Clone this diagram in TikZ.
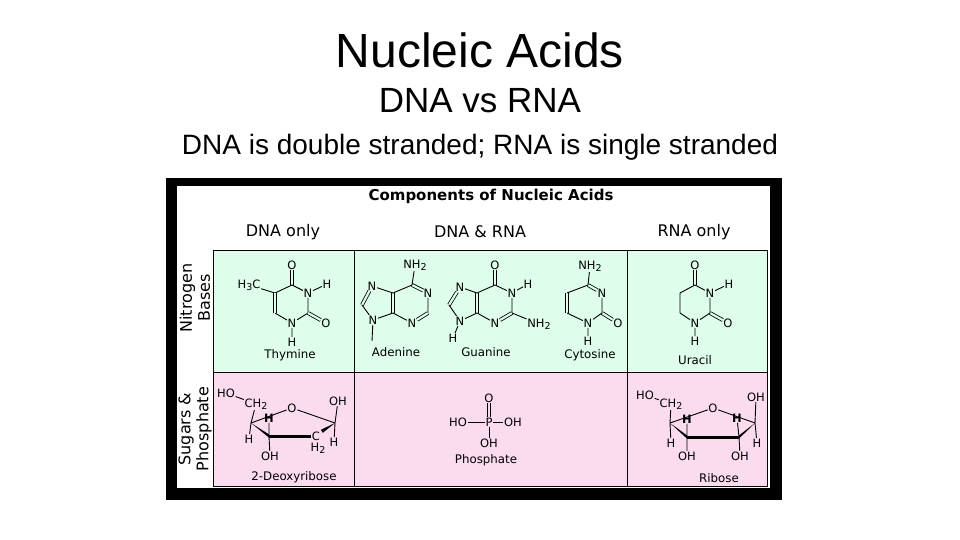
\documentclass[tikz,border=0pt]{standalone}
\usepackage{fontspec}
\setmainfont{Liberation Sans}
\newfontfamily\dv{DejaVu Sans}
\usetikzlibrary{calc}
\newcommand{\chsub}[1]{\raisebox{-0.35ex}{\fontsize{9.5}{9.5}\selectfont #1}}
\definecolor{gbg}{RGB}{222,253,235}
\definecolor{pbg}{RGB}{250,220,238}
\begin{document}
\begin{tikzpicture}[x=1pt,y=-1pt,
 a/.style={font=\dv\fontsize{11.5}{11.5}\selectfont, inner sep=0.6pt},
 lbl/.style={font=\dv\fontsize{11.8}{12}\selectfont, inner sep=0pt},
 hd/.style={font=\dv\fontsize{16}{16}\selectfont, inner sep=0pt},
 bd/.style={line width=0.9pt},
 dbl/.style={double=gbg, double distance=2.2pt, line width=0.8pt},
 dblp/.style={double=pbg, double distance=2.2pt, line width=0.8pt},
 thk/.style={line width=3pt},
 grid/.style={line width=0.8pt}]
\path[use as bounding box] (0,0) rectangle (960,540);
\node (t1) at (480,50) {\fontsize{48}{48}\selectfont Nucleic Acids};
\node (t2) at (480,101) {\fontsize{35}{35}\selectfont DNA vs RNA};
\node (t3) at (480,147) {\fontsize{28}{28}\selectfont DNA is double stranded; RNA is single stranded};
% frame
\fill[black] (166,178) rectangle (782,500);
\fill[white] (177,186) rectangle (770,488);
\fill[gbg] (213,250) rectangle (767,371);
\fill[pbg] (213,373) rectangle (767,486);
\draw[grid] (213,250) rectangle (767,486);
\draw[grid] (213,372) -- (767,372);
\draw[grid] (354,250) -- (354,486);
\draw[grid] (627,250) -- (627,486);
\node[hd, font=\dv\bfseries\fontsize{15}{15}\selectfont] (hdr) at (491,196) {Components of Nucleic Acids};
\node[hd] (h1) at (283,232) {DNA only};
\node[hd] (h2) at (480,232) {DNA \& RNA};
\node[hd] (h3) at (694,232) {RNA only};
\node[hd, rotate=90, align=center, font=\dv\fontsize{16}{18}\selectfont] (r1) at (195,298) {Nitrogen\\Bases};
\node[hd, rotate=90, align=center, font=\dv\fontsize{16}{18}\selectfont] (r2) at (195,429) {Sugars \&\\Phosphate};
% Thymine
\node[a] (tO) at (292,265) {O};
\coordinate (tC4) at (292,285);
\node[a] (tN3) at (308,293) {N};
\node[a] (tH3) at (327,284) {H};
\coordinate (tC2) at (308,313);
\node[a] (tO2) at (326,323) {O};
\node[a] (tN1) at (292,323) {N};
\node[a] (tH1) at (292,342) {H};
\coordinate (tC6) at (275,313);
\coordinate (tC5) at (275,293);
\node[a] (tMe) at (249,285) {H\chsub{3}C};
\draw[dbl] (tC4) -- (tO);
\draw[bd] (tC4) -- (tN3) (tN3) -- (tH3) (tN3) -- (tC2) (tC2) -- (tN1) (tN1) -- (tH1) (tN1) -- (tC6) (tC5) -- (tC4) (tC5) -- (tMe);
\draw[dbl] (tC2) -- (tO2);
\draw[dbl] (tC6) -- (tC5);
\node[lbl] (tl) at (290,355) {Thymine};
% Adenine
\node[a] (aN7) at (372,286) {N};
\coordinate (aC8) at (362,305);
\node[a] (aN9) at (373,320) {N};
\coordinate (aC5) at (393,293);
\coordinate (aC4) at (393,313);
\coordinate (aC6) at (412,285);
\node[a] (aNH) at (415,265) {NH\chsub{2}};
\node[a] (aN1) at (428,293) {N};
\coordinate (aC2) at (428,313);
\node[a] (aN3) at (412,323) {N};
\coordinate (aH) at (372,341);
\draw[dbl] (aN7) -- (aC8);
\draw[dbl] (aC4) -- (aC5);
\draw[dbl] (aC6) -- (aN1);
\draw[dbl] (aC2) -- (aN3);
\draw[bd] (aC8) -- (aN9) (aN9) -- (aC4) (aC5) -- (aN7) (aC5) -- (aC6) (aN1) -- (aC2) (aN3) -- (aC4) (aC6) -- (aNH) (aN9) -- (aH);
\node[lbl] (al) at (396,352) {Adenine};
% Guanine
\node[a] (gN7) at (460,287) {N};
\coordinate (gC8) at (449,305);
\node[a] (gN9) at (460,321) {N};
\node[a] (gH9) at (453,338) {H};
\coordinate (gC4) at (477,313);
\coordinate (gC5) at (477,293);
\coordinate (gC6) at (495,285);
\node[a] (gO) at (495,265) {O};
\node[a] (gN1) at (512,293) {N};
\node[a] (gH1) at (528,284) {H};
\coordinate (gC2) at (512,313);
\node[a] (gNH) at (539,324) {NH\chsub{2}};
\node[a] (gN3) at (495,323) {N};
\draw[dbl] (gN7) -- (gC8);
\draw[dbl] (gC4) -- (gC5);
\draw[dbl] (gC6) -- (gO);
\draw[dbl] (gC2) -- (gN3);
\draw[bd] (gC8) -- (gN9) (gN9) -- (gC4) (gC5) -- (gN7) (gC5) -- (gC6) (gC6) -- (gN1) (gN1) -- (gH1) (gN1) -- (gC2) (gN3) -- (gC4) (gC2) -- (gNH) (gN9) -- (gH9);
\node[lbl] (gl) at (486,352) {Guanine};
% Cytosine
\node[a] (cNH) at (590,266) {NH\chsub{2}};
\coordinate (cC4) at (588,285);
\node[a] (cN3) at (602,293) {N};
\coordinate (cC2) at (602,313);
\node[a] (cO) at (618,323) {O};
\node[a] (cN1) at (588,323) {N};
\node[a] (cH) at (588,341) {H};
\coordinate (cC6) at (567,313);
\coordinate (cC5) at (567,293);
\draw[dbl] (cC4) -- (cN3);
\draw[dbl] (cC2) -- (cO);
\draw[dbl] (cC6) -- (cC5);
\draw[bd] (cC4) -- (cNH) (cN3) -- (cC2) (cC2) -- (cN1) (cN1) -- (cH) (cN1) -- (cC6) (cC5) -- (cC4);
\node[lbl] (cl) at (590,355) {Cytosine};
% Uracil
\node[a] (uO) at (695,265) {O};
\coordinate (uC4) at (695,285);
\node[a] (uN3) at (710,293) {N};
\node[a] (uH3) at (729,284) {H};
\coordinate (uC2) at (710,313);
\node[a] (uO2) at (728,323) {O};
\node[a] (uN1) at (695,323) {N};
\node[a] (uH1) at (695,341) {H};
\coordinate (uC6) at (680,313);
\coordinate (uC5) at (680,293);
\draw[dbl] (uC4) -- (uO);
\draw[dbl] (uC2) -- (uO2);
\draw[bd] (uC4) -- (uN3) (uN3) -- (uH3) (uN3) -- (uC2) (uC2) -- (uN1) (uN1) -- (uH1) (uN1) -- (uC6) (uC6) -- (uC5) (uC5) -- (uC4);
\node[lbl] (ul) at (695,360) {Uracil};
% Deoxyribose
\node[a] (dHO) at (226,393) {HO};
\node[a] (dCH) at (256,404) {CH\chsub{2}};
\coordinate (dC4) at (251,423);
\node[a] (dO) at (292,408) {O};
\coordinate (dC1) at (335,423);
\node[a] (dC2) at (316,436) {C};
\node[a] (dH2) at (318,448) {H\chsub{2}};
\coordinate (dC3) at (269,436);
\node[a] (dH4) at (249,439) {H};
\node[a, font=\dv\bfseries\fontsize{11.5}{11.5}\selectfont] (dH3) at (269,418) {H};
\node[a] (dOH3) at (270,456) {OH};
\node[a] (dOH1) at (338,401) {OH};
\node[a] (dH1) at (334,442) {H};
\draw[bd] (dHO) -- (dCH) (dCH) -- (dC4) (dC4) -- (dO) (dO) -- (dC1) (dC4) -- (dH4) (dC3) -- (dH3) (dC3) -- (dOH3) (dC1) -- (dOH1) (dC1) -- (dH1);
\draw[thk] (dC3) -- (dC2.west);
\fill (dC4) -- ($(dC3)+(0,-1.6)$) -- ($(dC3)+(0,1.6)$) -- cycle;
\fill (dC1) -- ($(dC2.north east)+(0,-1)$) -- ($(dC2.north east)+(2,2)$) -- cycle;
\node[lbl] (dl) at (294,477) {2-Deoxyribose};
% Phosphate
\node[a] (pO) at (489,398) {O};
\node[a] (pP) at (489,422) {P};
\node[a] (pHO) at (458,422) {HO};
\node[a] (pOH) at (513,422) {OH};
\node[a] (pOH2) at (489,443) {OH};
\draw[dblp] (pP) -- (pO);
\draw[bd] (pHO) -- (pP) (pP) -- (pOH) (pP) -- (pOH2);
\node[lbl] (pl) at (486,460) {Phosphate};
% Ribose
\node[a] (rHO) at (645,395) {HO};
\node[a] (rCH) at (671,404) {CH\chsub{2}};
\coordinate (rC4) at (670,423);
\node[a] (rO) at (713,408) {O};
\coordinate (rC1) at (755,423);
\coordinate (rC2) at (739,437);
\coordinate (rC3) at (687,437);
\node[a, font=\dv\bfseries\fontsize{11.5}{11.5}\selectfont] (rH3) at (687,419) {H};
\node[a, font=\dv\bfseries\fontsize{11.5}{11.5}\selectfont] (rH2) at (737,418) {H};
\node[a] (rOH1) at (756,397) {OH};
\node[a] (rH1) at (757,443) {H};
\node[a] (rH4) at (671,443) {H};
\node[a] (rOH3) at (687,456) {OH};
\node[a] (rOH2) at (740,456) {OH};
\draw[bd] (rHO) -- (rCH) (rCH) -- (rC4) (rC4) -- (rO) (rO) -- (rC1) (rC4) -- (rH4) (rC1) -- (rH1) (rC1) -- (rOH1) (rC3) -- (rH3) (rC2) -- (rH2) (rC3) -- (rOH3) (rC2) -- (rOH2);
\draw[thk] (rC3) -- (rC2);
\fill (rC4) -- ($(rC3)+(0,-1.6)$) -- ($(rC3)+(0,1.6)$) -- cycle;
\fill (rC1) -- ($(rC2)+(0,-1.6)$) -- ($(rC2)+(0,1.6)$) -- cycle;
\node[lbl] (rl) at (719,478) {Ribose};
\end{tikzpicture}
\end{document}
